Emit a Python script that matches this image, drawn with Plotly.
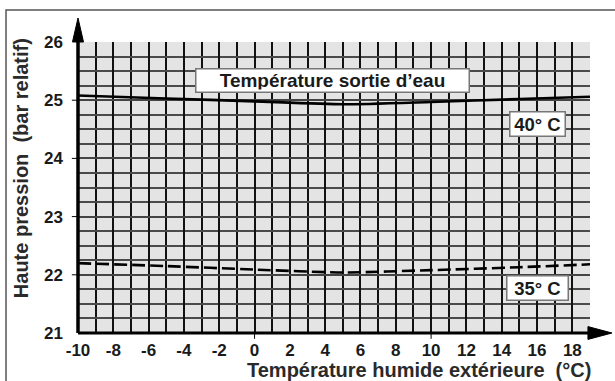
import plotly.graph_objects as go

# Data
x_vals = [-10, -5, 0, 5, 10, 15, 19]
p40 = [25.08, 25.03, 24.98, 24.93, 24.97, 25.02, 25.06]
p35 = [22.20, 22.15, 22.09, 22.04, 22.08, 22.13, 22.18]
x_ticks = list(range(-10, 19, 2))
y_ticks = [21, 22, 23, 24, 25, 26]

FONT = "Liberation Sans, Arial, sans-serif"
TXT = "#1a1a1a"
NB = "\u00a0"

fig = go.Figure()
fig.add_trace(go.Scatter(x=x_vals, y=p40, mode="lines", line=dict(color="black", width=2.6, shape="spline", smoothing=0.6), hoverinfo="skip"))
fig.add_trace(go.Scatter(x=x_vals, y=p35, mode="lines", line=dict(color="black", width=2.6, dash="13px,5px", shape="spline", smoothing=0.6), hoverinfo="skip"))

shapes = []
# outer frame
shapes.append(dict(type="rect", xref="paper", yref="paper", x0=-0.1406, x1=1.2, y0=-0.4, y1=1.11,
                   line=dict(color="#555", width=1.5), layer="below"))
# axes lines
shapes.append(dict(type="line", xref="paper", yref="paper", x0=0, x1=0, y0=0, y1=1.0, line=dict(color="black", width=3.5)))
shapes.append(dict(type="line", xref="paper", yref="paper", x0=0, x1=1.0, y0=0, y1=0, line=dict(color="black", width=3)))
# arrow heads
shapes.append(dict(type="path", xref="paper", yref="paper",
                   path="M -0.0108 1.0 L 0.0108 1.0 L 0 1.0825 Z", fillcolor="black", line=dict(color="black", width=1)))
shapes.append(dict(type="path", xref="paper", yref="paper",
                   path="M 0.996 -0.022 L 0.996 0.022 L 1.043 0 Z", fillcolor="black", line=dict(color="black", width=1)))
# small y ticks
for yv in [22, 23, 24, 25]:
    yp = (yv - 21) / 5
    shapes.append(dict(type="line", xref="paper", yref="paper", x0=-0.012, x1=0, y0=yp, y1=yp, line=dict(color="black", width=1)))
# small x ticks
for xv in [0, 10]:
    xp = (xv + 10) / 29
    shapes.append(dict(type="line", xref="paper", yref="paper", x0=xp, x1=xp, y0=0, y1=-0.02, line=dict(color="black", width=1)))

fig.update_layout(
    width=615, height=381,
    margin=dict(l=78, r=25, t=42, b=48, autoexpand=False),
    paper_bgcolor="white",
    plot_bgcolor="#e4e4e4",
    showlegend=False,
    font=dict(family=FONT, color=TXT, size=16),
    shapes=shapes,
    xaxis=dict(
        range=[-10, 19], tickmode="array", tickvals=x_ticks, ticktext=[f"<b>{v}</b>" for v in x_ticks],
        showgrid=True, gridcolor="#111", gridwidth=1.7, zeroline=False, showline=False,
        minor=dict(dtick=1, tick0=-10, showgrid=True, gridcolor="#111", gridwidth=1.7),
        ticks="", ticklabelstandoff=5, automargin=False,
        tickfont=dict(size=17, family=FONT, color=TXT),
    ),
    yaxis=dict(
        range=[21, 26], tickmode="array", tickvals=y_ticks, ticktext=[f"<b>{v}</b>" for v in y_ticks],
        showgrid=True, gridcolor="#444", gridwidth=1.7, zeroline=False, showline=False,
        minor=dict(dtick=0.25, tick0=21, showgrid=True, gridcolor="#4a4a4a", gridwidth=1.7),
        ticks="", ticklabelstandoff=14, automargin=False,
        tickfont=dict(size=17, family=FONT, color=TXT),
    ),
    annotations=[
        dict(x=0.666, y=-0.128, xref="paper", yref="paper",
             text=f"<b>Température humide extérieure {NB}(°C)</b>",
             showarrow=False, xanchor="center", yanchor="middle",
             font=dict(size=20, family=FONT, color="#2a2a2a")),
        dict(x=-0.111, y=0.567, xref="paper", yref="paper",
             text=f"<b>Haute pression {NB}(bar relatif)</b>",
             showarrow=False, textangle=-90, xanchor="center", yanchor="middle",
             font=dict(size=20, family=FONT, color="#2a2a2a")),
        dict(x=4.44, y=25.33, xref="x", yref="y", text="<b>Température sortie d’eau</b>", showarrow=False,
             font=dict(size=19, family=FONT, color=TXT),
             bgcolor="white", bordercolor="#777", borderwidth=1.5, width=268, height=18, borderpad=2),
        dict(x=16.0, y=24.59, xref="x", yref="y", text="<b>40° C</b>", showarrow=False,
             font=dict(size=18.5, family=FONT, color=TXT),
             bgcolor="white", bordercolor="#777", borderwidth=1.5, width=50, height=19, borderpad=2),
        dict(x=16.0, y=21.77, xref="x", yref="y", text="<b>35° C</b>", showarrow=False,
             font=dict(size=18.5, family=FONT, color=TXT),
             bgcolor="white", bordercolor="#777", borderwidth=1.5, width=56, height=19, borderpad=2),
    ],
)

fig.write_html("out.html")
